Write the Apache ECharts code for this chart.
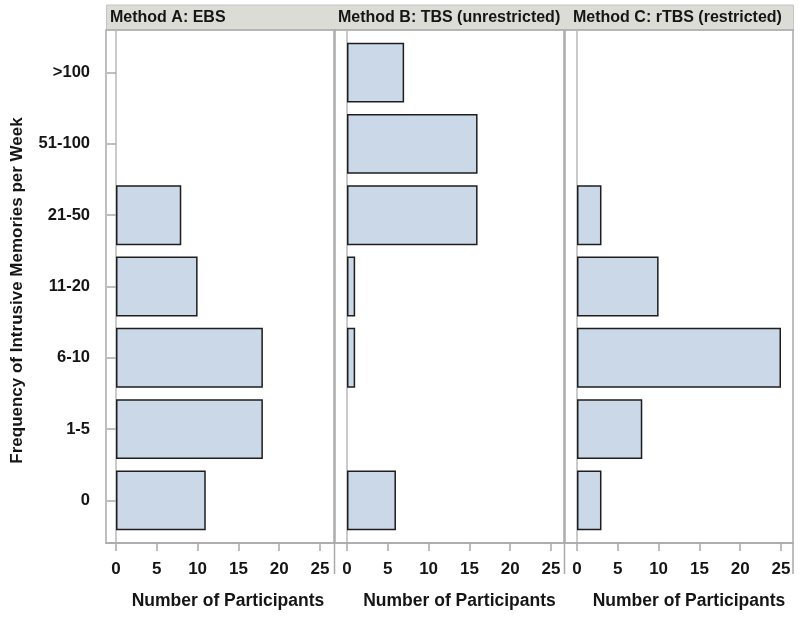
<!DOCTYPE html>
<html><head><meta charset="utf-8">
<script src="https://cdn.jsdelivr.net/npm/echarts@6/dist/echarts.min.js"></script>
<style>html,body{margin:0;padding:0;background:#fff}#c{width:800px;height:617px}</style>
</head><body><div id="c"></div>
<script>
// ---- data ----
const categories = ['0', '1-5', '6-10', '11-20', '21-50', '51-100', '>100'];
const panelTitles = ['Method A: EBS', 'Method B: TBS (unrestricted)', 'Method C: rTBS (restricted)'];
const ebsCounts  = [11, 18, 18, 10, 8, 0, 0];
const tbsCounts  = [6, 0, 1, 1, 16, 16, 7];
const rtbsCounts = [3, 8, 25, 10, 3, 0, 0];
const xTickValues = [0, 5, 10, 15, 20, 25];
const yAxisTitle = 'Frequency of Intrusive Memories per Week';
const xAxisTitle = 'Number of Participants';

// ---- layout ----
const FONT = '"Liberation Sans", Arial, sans-serif';
const panels = [
  { left: 106, right: 334, zero: 116, titleX: 110, values: ebsCounts },
  { left: 335, right: 564, zero: 347, titleX: 338, values: tbsCounts },
  { left: 565, right: 793, zero: 577, titleX: 573, values: rtbsCounts }
];
const UNIT = 8.16;            // px per participant
const FRAME_TOP = 30, FRAME_BOTTOM = 543;
const BAR_TOP = 37, BAR_BOTTOM = 536;
const GRAY = '#a9a9a9';
const TEXT = '#151515';

const grid = [], xAxis = [], yAxis = [], series = [], title = [];
panels.forEach((p, i) => {
  const min = (p.left - p.zero) / UNIT;
  const max = (p.right - p.zero) / UNIT;
  const w = p.right - p.left;
  grid.push({ left: p.left, top: FRAME_TOP, width: w, height: FRAME_BOTTOM - FRAME_TOP,
              show: true, borderColor: GRAY, borderWidth: 1.5, backgroundColor: 'transparent' });
  grid.push({ left: p.left, top: BAR_TOP, width: w, height: BAR_BOTTOM - BAR_TOP });
  const fg = 2 * i, bg = 2 * i + 1;
  xAxis.push({
    gridIndex: fg, type: 'value', min: min, max: max,
    axisLine: { show: true, onZero: false, lineStyle: { color: GRAY, width: 1.5 } },
    axisTick: { show: true, customValues: xTickValues, length: 8, lineStyle: { color: GRAY, width: 1.5 } },
    axisLabel: { customValues: xTickValues, fontSize: 17, fontWeight: 'bold', color: TEXT, fontFamily: FONT, margin: 18 },
    splitLine: { show: false },
    name: xAxisTitle, nameLocation: 'middle', nameGap: 49,
    nameTextStyle: { fontSize: 17.5, fontWeight: 'bold', color: TEXT, fontFamily: FONT, padding: [0, 0, 0, (p.zero - p.left) * 2 - 4] }
  });
  xAxis.push({ gridIndex: bg, type: 'value', min: min, max: max, show: false });
  yAxis.push({
    gridIndex: fg, type: 'value', min: 0, max: 1,
    axisLine: { show: true, onZero: true, lineStyle: { color: '#b8b8b8', width: 1.5 } },
    axisTick: { show: false }, axisLabel: { show: false }, splitLine: { show: false }
  });
  const yCat = {
    gridIndex: bg, type: 'category', data: categories,
    axisLine: { show: false },
    axisTick: { show: i === 0, alignWithLabel: true, length: 9, lineStyle: { color: GRAY, width: 1.5 } },
    axisLabel: { show: i === 0, fontSize: 16.5, fontWeight: 'bold', color: TEXT, fontFamily: FONT, margin: 16 },
    splitLine: { show: false }
  };
  if (i === 0) {
    yCat.name = yAxisTitle;
    yCat.nameLocation = 'middle';
    yCat.nameRotate = 90;
    yCat.nameGap = 80;
    yCat.nameTextStyle = { fontSize: 17, fontWeight: 'bold', color: TEXT, fontFamily: FONT, padding: [0, 8, 0, 0] };
  }
  yAxis.push(yCat);
  series.push({
    type: 'bar', xAxisIndex: bg, yAxisIndex: bg,
    data: p.values.map(v => (v === 0 ? '-' : v)),
    barCategoryGap: '16%',
    itemStyle: { color: '#cbd8e8', borderColor: '#1e1e1e', borderWidth: 1.5 },
    emphasis: { disabled: true },
    silent: true, animation: false
  });
  title.push({
    text: panelTitles[i], left: p.titleX, top: 10, padding: 0,
    textStyle: { fontSize: 16, fontWeight: 'bold', color: TEXT, fontFamily: FONT }
  });
});

const graphic = [
  { type: 'rect', z: -1, shape: { x: 106.5, y: 5, width: 687, height: 25 },
    style: { fill: '#dcdcd6', stroke: '#c4c4c4', lineWidth: 1 } }
];
[334.5, 564.5, 793].forEach(x => {
  graphic.push({ type: 'line', z: -1, shape: { x1: x, y1: FRAME_BOTTOM, x2: x, y2: 574 },
                 style: { stroke: GRAY, lineWidth: 1.5 } });
});

const chart = echarts.init(document.getElementById('c'), null, { renderer: 'canvas' });
chart.setOption({
  animation: false,
  backgroundColor: '#ffffff',
  title: title,
  grid: grid,
  xAxis: xAxis,
  yAxis: yAxis,
  series: series,
  graphic: graphic
});
</script>
</body></html>
